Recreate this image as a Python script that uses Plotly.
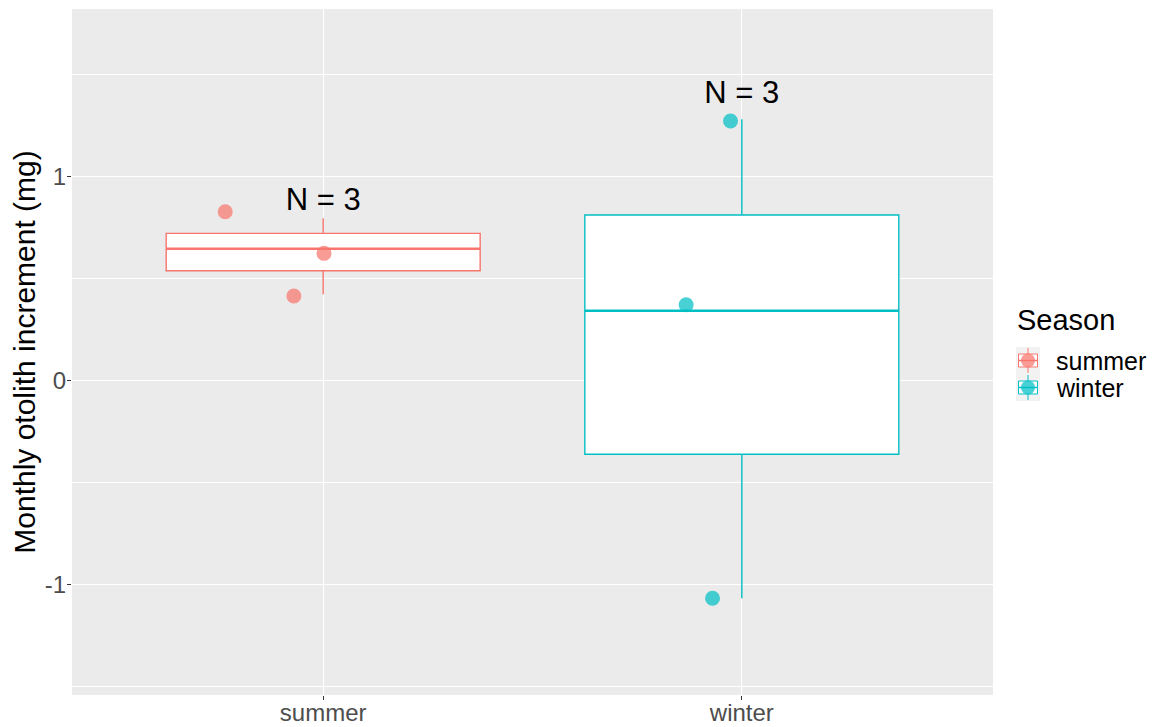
import plotly.graph_objects as go

# ---- data ----
seasons = ["summer", "winter"]
colors = ["#F8766D", "#00BFC4"]
point_colors = ["rgba(248,118,109,0.72)", "rgba(0,191,196,0.72)"]

q1 = [0.540, -0.360]
median = [0.648, 0.344]
q3 = [0.723, 0.813]
lower = [0.425, -1.066]
upper = [0.797, 1.282]

# jittered observations (as drawn)
summer_y = [0.829, 0.625, 0.416]
summer_jitter = [-0.234, 0.002, -0.070]
winter_y = [1.274, 0.373, -1.066]
winter_jitter = [-0.027, -0.133, -0.070]

n_labels = ["N = 3", "N = 3"]
n_label_y = [0.878, 1.401]

y_ticks = [-1, 0, 1]
y_minor = [-1.5, -0.5, 0.5, 1.5]

legend_title = "Season"

# ---- layout geometry (pixels) ----
W, H = 1161, 727
ML, MR, MT, MB = 72, 168, 9, 32
PW, PH = W - ML - MR, H - MT - MB
BOX_W = 0.75


def px(xp):
    return (xp - ML) / PW


def py(yp):
    return (H - MB - yp) / PH


FONT = "Liberation Sans, Arial, sans-serif"

fig = go.Figure()

for i, s in enumerate(seasons):
    fig.add_trace(go.Box(
        x=[i], q1=[q1[i]], median=[median[i]], q3=[q3[i]],
        lowerfence=[lower[i]], upperfence=[upper[i]],
        name=s, width=BOX_W, whiskerwidth=0,
        fillcolor="white", line=dict(color=colors[i], width=1.4),
        boxpoints=False, showlegend=False, hoverinfo="skip",
    ))
    # thicker median line (ggplot style)
    fig.add_trace(go.Scatter(
        x=[i - BOX_W / 2, i + BOX_W / 2], y=[median[i], median[i]], mode="lines",
        line=dict(color=colors[i], width=2.4), showlegend=False, hoverinfo="skip",
    ))

pts_y = [summer_y, winter_y]
pts_j = [summer_jitter, winter_jitter]
for i, s in enumerate(seasons):
    fig.add_trace(go.Scatter(
        x=[i + j for j in pts_j[i]], y=pts_y[i], mode="markers",
        marker=dict(size=15, color=point_colors[i], line=dict(width=0)),
        showlegend=False, name=s,
    ))

fig.add_trace(go.Scatter(
    x=list(range(len(seasons))), y=n_label_y, mode="text", text=n_labels,
    textfont=dict(family=FONT, size=31, color="black"),
    showlegend=False, hoverinfo="skip",
))

# ---- manual legend (ggplot style) ----
shapes = []
annotations = [dict(
    text=legend_title, xref="paper", yref="paper", x=px(1015), y=py(320),
    xanchor="left", yanchor="middle", showarrow=False,
    font=dict(family=FONT, size=29, color="black"),
)]
key_top = 347
key_h = 27
for i, s in enumerate(seasons):
    t = key_top + i * key_h
    b = t + key_h
    cy = (t + b) / 2
    shapes.append(dict(type="rect", xref="paper", yref="paper",
                       x0=px(1016), x1=px(1040), y0=py(b), y1=py(t),
                       fillcolor="#F2F2F2", line=dict(width=0), layer="above"))
    shapes.append(dict(type="line", xref="paper", yref="paper",
                       x0=px(1028), x1=px(1028), y0=py(b - 1), y1=py(t + 1),
                       line=dict(color=colors[i], width=1), layer="above"))
    shapes.append(dict(type="rect", xref="paper", yref="paper",
                       x0=px(1018.5), x1=px(1037.5), y0=py(cy + 6.5), y1=py(cy - 6.5),
                       fillcolor="white", line=dict(color=colors[i], width=1), layer="above"))
    shapes.append(dict(type="line", xref="paper", yref="paper",
                       x0=px(1018.5), x1=px(1037.5), y0=py(cy), y1=py(cy),
                       line=dict(color=colors[i], width=1.5), layer="above"))
    shapes.append(dict(type="circle", xref="paper", yref="paper",
                       x0=px(1021), x1=px(1035), y0=py(cy + 7), y1=py(cy - 7),
                       fillcolor=point_colors[i], line=dict(width=0), layer="above"))
    annotations.append(dict(
        text=s, xref="paper", yref="paper", x=px(1055), y=py(cy),
        xanchor="left", yanchor="middle", showarrow=False, borderpad=0,
        font=dict(family=FONT, size=25, color="black"),
    ))

fig.update_layout(
    width=W, height=H,
    margin=dict(l=ML, r=MR, t=MT, b=MB, autoexpand=False),
    paper_bgcolor="white", plot_bgcolor="#EBEBEB",
    boxmode="overlay", showlegend=False,
    font=dict(family=FONT, color="black"),
    shapes=shapes, annotations=annotations,
    xaxis=dict(
        range=[-0.6, 1.6], tickvals=list(range(len(seasons))), ticktext=seasons,
        showgrid=True, gridcolor="white", gridwidth=1.4, zeroline=False,
        ticks="outside", ticklen=4, tickcolor="#333333", tickwidth=1,
        tickfont=dict(size=24, color="#4D4D4D"), ticklabelstandoff=-8,
        showline=False, automargin=False,
    ),
    yaxis=dict(
        range=[-1.540, 1.823], tickvals=y_ticks, ticktext=[str(v) for v in y_ticks],
        showgrid=True, gridcolor="white", gridwidth=1.4, zeroline=False,
        ticks="outside", ticklen=4, tickcolor="#333333", tickwidth=1,
        tickfont=dict(size=24, color="#4D4D4D"), ticklabelstandoff=-4,
        title=dict(text="Monthly otolith increment (mg)", font=dict(size=30, color="black"), standoff=0),
        minor=dict(tickvals=y_minor, showgrid=True, gridcolor="white", gridwidth=0.7, ticks=""),
        showline=False, automargin=False,
    ),
)

fig.write_html("out.html", config={"displayModeBar": False},
               post_script="document.body.style.margin='0';")
